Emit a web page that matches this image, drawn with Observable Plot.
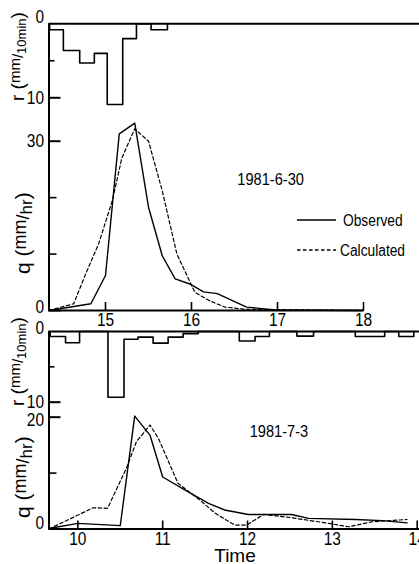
<!DOCTYPE html>
<html><head><meta charset="utf-8">
<script src="https://cdn.jsdelivr.net/npm/d3@7"></script>
<script src="https://cdn.jsdelivr.net/npm/@observablehq/plot@0.6"></script>
<style>
html,body{margin:0;padding:0;background:#fff;}
#chart{position:relative;width:419px;height:564px;overflow:hidden;background:#fff;}
#chart svg{position:absolute;left:0;}
</style></head><body><div id="chart"></div>
<script>
// ---------- data ----------
// Event 1 (1981-6-30): rainfall (mm/10min) hyetograph, bar start times (hours)
const rain1Start = [14.35, 14.51, 14.70, 14.87, 15.02, 15.20, 15.36, 15.53];
const rain1Value = [0.8, 3.6, 5.3, 4.0, 10.9, 2.0, 0, 0.8];
const rain1End = 15.72;
// Event 1 discharge (mm/hr)
const obs1T = [14.343, 14.83, 15.0, 15.16, 15.34, 15.5, 15.66, 15.81, 15.98, 16.14, 16.3, 16.64, 16.98, 18.0];
const obs1Q = [0, 1.2, 6.2, 31.3, 33.2, 18.3, 9.7, 5.6, 4.7, 3.3, 3.0, 0.6, 0.1, 0];
const calc1T = [14.343, 14.63, 14.77, 14.92, 15.08, 15.19, 15.34, 15.5, 15.66, 15.83, 16.04, 16.2, 16.39, 16.64, 18.0];
const calc1Q = [0, 1.2, 6.5, 11.8, 19.5, 27, 32.2, 30.0, 21.2, 10.0, 3.2, 1.8, 0.6, 0.2, 0];
const time1Domain = [14.343, 18.651];
const time1Ticks = [15, 16, 17, 18];

// Event 2 (1981-7-3)
const rain2Start = [9.674, 9.855, 10.02, 10.355, 10.544, 10.709, 10.887, 11.064, 11.241, 11.42, 11.903, 12.089, 12.258, 12.582, 12.778, 13.27, 13.617, 13.783];
const rain2Value = [0.7, 1.6, 0, 9.3, 1.1, 0.8, 1.65, 0.8, 0.3, 0, 1.35, 0.7, 0, 0.65, 0, 0.7, 0, 0.7];
const rain2End = 13.96;
const obs2T = [9.66, 10.0, 10.5, 10.67, 10.85, 11.0, 11.26, 11.54, 11.73, 12.01, 12.52, 12.72, 13.27, 13.59, 13.88];
const obs2Q = [0.1, 1.0, 0.6, 20.2, 16.8, 9.3, 7.0, 4.6, 3.4, 2.6, 2.6, 1.9, 1.7, 1.5, 1.1];
const calc2T = [9.66, 9.88, 10.18, 10.35, 10.57, 10.69, 10.85, 10.95, 11.18, 11.46, 11.62, 11.85, 11.99, 12.19, 12.48, 12.96, 13.19, 13.47, 13.88];
const calc2Q = [0, 1.6, 3.8, 3.7, 10.8, 15.6, 18.6, 16.2, 8.2, 4.9, 2.8, 0.7, 0.7, 2.6, 2.1, 1.0, 0.4, 1.3, 1.7];
const time2Domain = [9.66, 14.027];
const time2Ticks = [10, 11, 12, 13, 14];

const rainMinorTicks = [5];
const rainMajorTicks = [10];
const q1MinorTicks = [10, 20];
const q1LabelTicks = [0, 30];
const q2MinorTicks = [10];
const q2LabelTicks = [0, 20];

const dates = [
  {t: 16.92, q: 23.2, label: "1981-6-30"},
  {t: 12.37, q: 17.4, label: "1981-7-3"}
];

// ---------- helpers ----------
const W = 419;
const FONT = '"Liberation Sans",Arial,sans-serif';
const TICK_FS = 18;
const style = {background: "none", color: "black", fontFamily: FONT, fontSize: TICK_FS + "px", overflow: "visible"};
const zip = (T, Q) => T.map((t, i) => ({t, q: Q[i]}));
function steps(starts, values, end) {
  const pts = [{t: starts[0], r: 0}];
  starts.forEach((s, i) => pts.push({t: s, r: values[i]}));
  pts.push({t: end, r: 0});
  return pts;
}
const chart = document.getElementById("chart");
function place(svg, top) { svg.style.top = top + "px"; chart.appendChild(svg); }

function rainPlot(domain, starts, values, end, top, height, mTop, zeroDy) {
  const p = Plot.plot({
    width: W, height, marginTop: mTop, marginBottom: 0, marginLeft: 48.5, marginRight: 0,
    style,
    x: {domain, axis: null},
    y: {domain: [0, 12], reverse: true, axis: null, label: null},
    marks: [
      Plot.ruleY([0], {strokeWidth: 2}),
      Plot.ruleX([domain[0]], {strokeWidth: 2}),
      Plot.line(steps(starts, values, end), {x: "t", y: "r", curve: "step-after", strokeWidth: 1.6}),
      Plot.axisY(rainMinorTicks, {tickSize: 6, dx: 6, tickFormat: () => "", strokeWidth: 1.6}),
      Plot.axisY(rainMajorTicks, {tickSize: 12, dx: 12, tickPadding: 5, fontSize: TICK_FS, strokeWidth: 2}),
      Plot.axisY([0], {tickSize: 0, tickPadding: 5, dy: zeroDy, fontSize: TICK_FS})
    ]
  });
  place(p, top);
}

function qPlot(domain, ticks, axisEnd, obs, calc, yMax, minorT, labelT, labelDy, date, top, height, mTop, mBottom) {
  const p = Plot.plot({
    width: W, height, marginTop: mTop, marginBottom: mBottom, marginLeft: 48.5, marginRight: 0,
    style,
    x: {domain, label: null},
    y: {domain: [0, yMax], label: null},
    marks: [
      Plot.ruleX([domain[0]], {strokeWidth: 2}),
      Plot.ruleY([0], {x1: domain[0], x2: axisEnd, strokeWidth: 2}),
      Plot.axisX(ticks, {tickSize: 8, dy: -8, tickPadding: 3, fontSize: TICK_FS, strokeWidth: 1.6, label: null}),
      Plot.axisY(minorT, {tickSize: 8, dx: 8, tickFormat: () => "", strokeWidth: 1.6}),
      ...labelT.map((v, i) => Plot.axisY([v], {tickSize: 12, dx: 12, dy: labelDy[i], tickPadding: 5, fontSize: TICK_FS, strokeWidth: 0, label: null})),
      Plot.axisY(labelT, {tickSize: 12, dx: 12, tickFormat: () => "", strokeWidth: 2, label: null}),
      Plot.line(obs, {x: "t", y: "q", strokeWidth: 1.4}),
      Plot.line(calc, {x: "t", y: "q", strokeWidth: 1.2, strokeDasharray: "3.5,2.5"}),
      Plot.text([date], {x: "t", y: "q", text: "label", fontSize: 17})
    ]
  });
  place(p, top);
}

rainPlot(time1Domain, rain1Start, rain1Value, rain1End, 0, 112.1, 23.3, -7);
qPlot(time1Domain, time1Ticks, 18, zip(obs1T, obs1Q), zip(calc1T, calc1Q), 37, q1MinorTicks, q1LabelTicks, [-3, 0], dates[0], 100, 232, 1.2, 22);
rainPlot(time2Domain, rain2Start, rain2Value, rain2End, 308, 107.84, 23, -3);
qPlot(time2Domain, time2Ticks, time2Domain[1], zip(obs2T, obs2Q), zip(calc2T, calc2Q), 22, q2MinorTicks, q2LabelTicks, [-6, 3], dates[1], 400, 164, 5.5, 35.5);

// ---------- overlay: axis titles and legend ----------
const ov = d3.create("svg").attr("width", W).attr("height", 564)
  .style("top", "0px").style("font-family", FONT);
function yTitle(x, y, main, num, den, mainSize, numSize, denSize) {
  const t = ov.append("text").attr("class", "title").attr("transform", `translate(${x},${y}) rotate(-90)`).attr("font-size", mainSize);
  t.append("tspan").text(main + " (");
  t.append("tspan").attr("font-size", numSize).attr("dy", -4).text(num);
  t.append("tspan").attr("font-size", numSize).attr("dy", 3).text("/");
  t.append("tspan").attr("font-size", denSize).attr("dy", 3).text(den);
  t.append("tspan").attr("dy", -2).text(")");
}
yTitle(24, 101, "r", "mm", "10min", 19, 15, 13);
yTitle(30, 274, "q  ", "mm", "hr", 21, 18, 17);
yTitle(24, 406, "r", "mm", "10min", 19, 15, 13);
yTitle(30, 518, "q  ", "mm", "hr", 21, 18, 17);

const legend = [{label: "Observed", dash: null, y: 220, tx: 343}, {label: "Calculated", dash: "3.5,2.5", y: 250, tx: 340}];
legend.forEach(d => {
  ov.append("line").attr("x1", 297).attr("x2", 336).attr("y1", d.y).attr("y2", d.y)
    .attr("stroke", "black").attr("stroke-width", 1.3).attr("stroke-dasharray", d.dash);
  ov.append("text").attr("x", d.tx).attr("y", d.y).attr("dy", "0.35em")
    .attr("font-size", 16).text(d.label);
});
ov.append("text").attr("class", "title").attr("x", 235).attr("y", 562).attr("text-anchor", "middle")
  .attr("font-size", 19).text("Time");
chart.appendChild(ov.node());

// condensed look of the original lettering
document.querySelectorAll("#chart svg text").forEach(t => {
  if (t.classList.contains("title")) return;
  const L = t.getComputedTextLength();
  if (L > 0) { t.setAttribute("textLength", (L * 0.86).toFixed(2)); t.setAttribute("lengthAdjust", "spacingAndGlyphs"); }
});
</script></body></html>
